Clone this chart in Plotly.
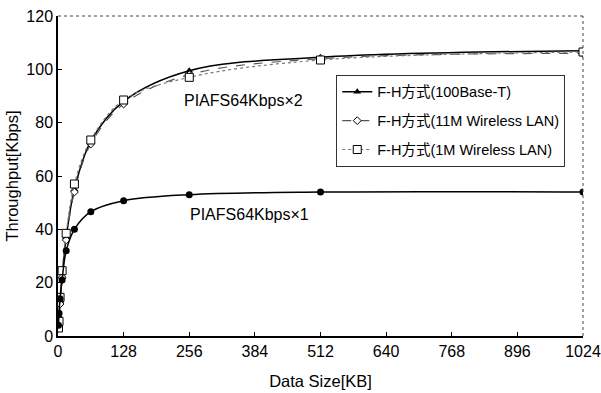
import plotly.graph_objects as go

sizes = [1, 2, 4, 8, 16, 32, 64, 128, 256, 512, 1024]
fh_100base = [4, 7.5, 13, 22, 37, 55, 73, 88, 99.5, 104.5, 107]
fh_11m = [3, 6, 12, 22, 36, 54, 72, 87, 98, 104, 106]
fh_1m = [3, 5.5, 14.5, 24.5, 38.5, 57, 73.5, 88.5, 97, 103.5, 106.5]
piafs1 = [4, 8.5, 14, 21, 32, 40, 46.6, 50.7, 53, 54, 54]

xticks = [0, 128, 256, 384, 512, 640, 768, 896, 1024]
yticks = [0, 20, 40, 60, 80, 100, 120]

FONT = "Liberation Sans, Arial, Noto Sans CJK JP, sans-serif"

fig = go.Figure()
fig.add_trace(go.Scatter(
    x=sizes, y=fh_100base, name="F-H方式(100Base-T)", mode="lines+markers", legendgroup="a",
    line=dict(color="black", width=1.5, shape="spline"),
    marker=dict(symbol="triangle-up", size=7, color="black")))
fig.add_trace(go.Scatter(
    x=sizes, y=fh_11m, name="F-H方式(11M Wireless LAN)", mode="lines+markers", legendgroup="b",
    line=dict(color="#555555", width=1.2, dash="dash", shape="spline"),
    marker=dict(symbol="diamond", size=6, color="white", line=dict(color="black", width=1))))
fig.add_trace(go.Scatter(
    x=sizes, y=fh_1m, name="F-H方式(1M Wireless LAN)", mode="lines+markers", legendgroup="c",
    line=dict(color="#777777", width=1.2, dash="dot", shape="spline"),
    marker=dict(symbol="square", size=8, color="white", line=dict(color="black", width=1))))
fig.add_trace(go.Scatter(
    x=sizes, y=piafs1, name="PIAFS64Kbps×1", mode="lines+markers", showlegend=False,
    line=dict(color="black", width=1.5, shape="spline"),
    marker=dict(symbol="circle", size=7, color="black")))

fig.add_annotation(x=361, y=88.5, xref="x", yref="y", text="PIAFS64Kbps×2", showarrow=False,
                   font=dict(size=16, color="black", family=FONT))
fig.add_annotation(x=374, y=45.4, xref="x", yref="y", text="PIAFS64Kbps×1", showarrow=False,
                   font=dict(size=16, color="black", family=FONT))

# dotted top and right frame
fig.add_shape(type="line", xref="paper", yref="paper", x0=0, x1=1, y0=1, y1=1,
              line=dict(color="#444444", width=1, dash="dot"))
fig.add_shape(type="line", xref="paper", yref="paper", x0=1, x1=1, y0=0, y1=1,
              line=dict(color="#444444", width=1, dash="dot"))

fig.update_layout(
    width=601, height=393,
    margin=dict(l=58, r=18, t=16, b=57, autoexpand=False),
    paper_bgcolor="white", plot_bgcolor="white",
    font=dict(family=FONT, size=16, color="black"),
    showlegend=True,
    legend=dict(x=0.53, y=0.816, xanchor="left", yanchor="top",
                bordercolor="#333333", borderwidth=1, bgcolor="white",
                font=dict(size=14.5, family=FONT), tracegroupgap=7,
                itemwidth=30),
    xaxis=dict(range=[0, 1024], tickvals=xticks, ticktext=[str(v) for v in xticks],
               showgrid=False, zeroline=False, showline=True, linecolor="black", linewidth=1.5,
               ticks="inside", ticklen=4, tickcolor="black", automargin=False,
               tickfont=dict(size=16),
               title=dict(text="Data Size[KB]", font=dict(size=16.5), standoff=16)),
    yaxis=dict(range=[0, 120], tickvals=yticks, ticktext=[str(v) for v in yticks],
               showgrid=False, zeroline=False, showline=True, linecolor="black", linewidth=1.5,
               ticks="inside", ticklen=4, tickcolor="black", automargin=False,
               tickfont=dict(size=16),
               title=dict(text="Throughput[Kbps]", font=dict(size=16.5), standoff=4)),
)

fig.write_html("out.html")
